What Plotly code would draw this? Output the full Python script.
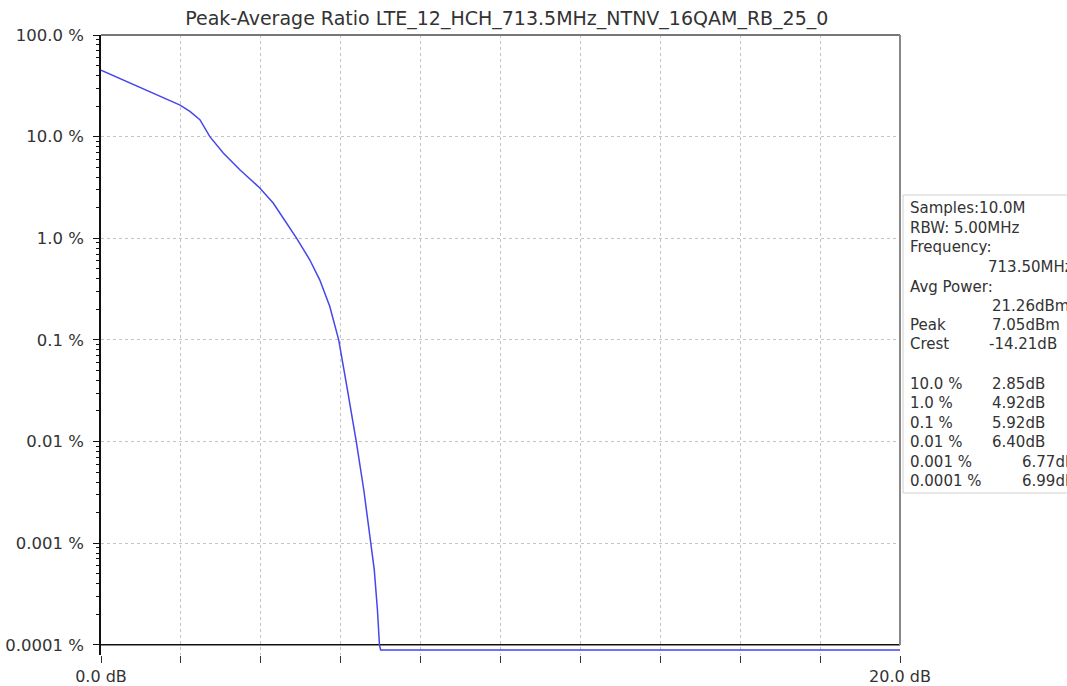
import plotly.graph_objects as go
import numpy as np

# ---- data ----
peak_db = [0.0, 1.0, 1.98, 2.225, 2.475, 2.725, 3.06, 3.475, 3.975, 4.31, 4.64, 4.89,
           5.225, 5.475, 5.725, 5.89, 5.95, 6.17, 6.39, 6.58, 6.75, 6.84, 6.92, 6.97,
           7.0, 20.0]
ccdf_pct = [45.0, 30.0, 20.4, 17.7, 14.7, 10.0, 6.9, 4.73, 3.13, 2.22, 1.41, 1.01,
            0.615, 0.39, 0.214, 0.126, 0.1, 0.032, 0.01, 0.0033, 0.001, 0.00055, 0.00022,
            0.0001, 0.000089, 0.000089]

floor_x = [0.0, 20.0]
floor_y = [0.0001, 0.0001]

y_tickvals = [0.0001, 0.001, 0.01, 0.1, 1.0, 10.0, 100.0]
y_ticktext = ["0.0001 %", "0.001 %", "0.01 %", "0.1 %", "1.0 %", "10.0 %", "100.0 %"]
x_tickvals = [0, 2, 4, 6, 8, 10, 12, 14, 16, 18, 20]
x_ticktext = ["0.0 dB", "", "", "", "", "", "", "", "", "", "20.0 dB"]

title = "Peak-Average Ratio LTE_12_HCH_713.5MHz_NTNV_16QAM_RB_25_0"

info_labels = ["Samples:10.0M", "RBW: 5.00MHz", "Frequency:", "", "Avg Power:", "",
               "Peak", "Crest", "", "10.0 %", "1.0 %", "0.1 %", "0.01 %", "0.001 %", "0.0001 %"]
info_values = ["", "", "", "713.50MHz", "", "21.26dBm", "7.05dBm", "-14.21dB", "",
               "2.85dB", "4.92dB", "5.92dB", "6.40dB", "6.77dB", "6.99dB"]

# ---- layout geometry ----
W, H = 1067, 686
ML, MR, MT, MB = 101, 167, 35, 31
PW, PH = W - ML - MR, H - MT - MB

def px_x(p):
    return (p - ML) / PW

def px_y(p):
    return (H - MB - p) / PH

minor_vals = [m * 10.0 ** e for e in range(-4, 2) for m in range(2, 10)]

fig = go.Figure()
fig.add_trace(go.Scatter(x=floor_x, y=floor_y, mode="lines",
                         line=dict(color="#111111", width=1.5), showlegend=False,
                         hoverinfo="skip"))
fig.add_trace(go.Scatter(x=peak_db, y=ccdf_pct, mode="lines",
                         line=dict(color="rgb(70,70,235)", width=1.5),
                         showlegend=False))

fig.update_layout(
    width=W, height=H,
    margin=dict(l=ML, r=MR, t=MT, b=MB, autoexpand=False),
    paper_bgcolor="white", plot_bgcolor="white",
    font=dict(family="DejaVu Sans", color="#333333"),
    title=dict(text=title, x=0.475, xanchor="center", y=1 - 18 / H, yanchor="middle",
               font=dict(size=19, color="#333333")),
    showlegend=False,
)
fig.update_xaxes(range=[0, 20], tickmode="array", tickvals=x_tickvals, ticktext=x_ticktext,
                 ticks="outside", ticklen=7, tickcolor="#333333", tickwidth=1,
                 showline=False, zeroline=False, automargin=False,
                 showgrid=True, gridcolor="#c4c4c4", griddash="dot", gridwidth=1,
                 tickfont=dict(size=16, color="#333333"))
fig.update_yaxes(type="log", range=[-4.1, 2.0], tickmode="array", tickvals=y_tickvals,
                 ticktext=y_ticktext, ticks="outside", ticklen=6, tickcolor="#111111",
                 showline=True, linecolor="#111111", linewidth=1.5, zeroline=False,
                 automargin=False,
                 showgrid=True, gridcolor="#c4c4c4", griddash="dot", gridwidth=1,
                 ticklabelstandoff=6,
                 tickfont=dict(size=16.5, color="#333333"),
                 minor=dict(tickmode="array", tickvals=minor_vals, ticks="outside",
                            ticklen=3, tickcolor="#111111", showgrid=False))

# plot frame (top and right)
fig.add_shape(type="line", xref="paper", yref="paper", x0=0, x1=1, y0=1, y1=1,
              line=dict(color="#777777", width=2))
fig.add_shape(type="line", xref="paper", yref="paper", x0=1, x1=1, y0=px_y(645), y1=1,
              line=dict(color="#888888", width=2))

# info box
fig.add_shape(type="rect", xref="paper", yref="paper",
              x0=px_x(903), x1=px_x(1090), y0=px_y(493), y1=px_y(195),
              line=dict(color="#cfcfcf", width=1), fillcolor="white", layer="above")

line_y = [208, 228, 247, 267, 287, 306, 325, 344, 364, 384, 403, 423, 442, 462, 481]
value_x = [990, 990, 990, 986, 990, 990, 990, 987, 990, 990, 990, 990, 990, 1020, 1020]
for lab, val, yy, vx in zip(info_labels, info_values, line_y, value_x):
    if lab:
        fig.add_annotation(xref="paper", yref="paper", x=px_x(908), y=px_y(yy),
                           xanchor="left", yanchor="middle", text=lab, showarrow=False,
                           font=dict(size=15, color="#333333"))
    if val:
        fig.add_annotation(xref="paper", yref="paper", x=px_x(vx), y=px_y(yy),
                           xanchor="left", yanchor="middle", text=val, showarrow=False,
                           font=dict(size=15, color="#333333"))

fig.write_html("out.html", config={"displayModeBar": False},
               post_script="document.body.style.margin='0';")
